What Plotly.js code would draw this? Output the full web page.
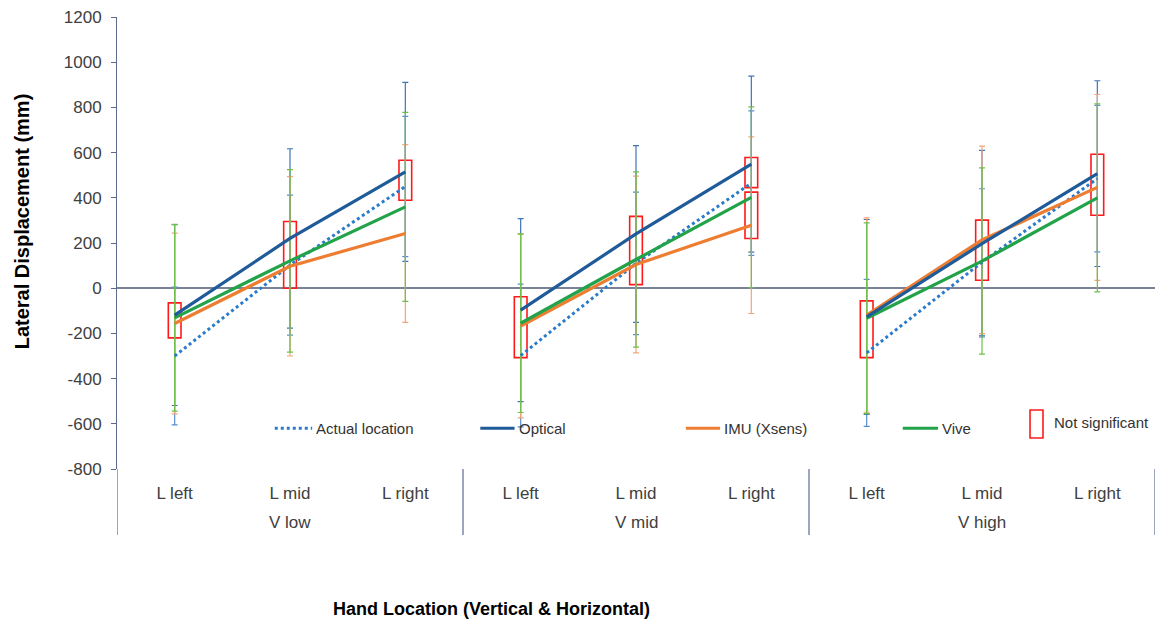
<!DOCTYPE html>
<html><head><meta charset="utf-8">
<script src="https://cdn.plot.ly/plotly-3.0.1.min.js"></script>
<style>html,body{margin:0;padding:0;background:#fff}#chart{width:1159px;height:623px}</style>
</head><body><div id="chart"></div>
<script>
const vGroups = ["V low", "V mid", "V high"];
const lPositions = ["L left", "L mid", "L right", "L left", "L mid", "L right", "L left", "L mid", "L right"];
const yTickVals = [-800, -600, -400, -200, 0, 200, 400, 600, 800, 1000, 1200];

const actual = [-300, 102, 450, -298, 110, 465, -286, 115, 485];
const actualErr = [305, 310, 310, 316, 315, 320, 325, 325, 324];
const optical = [-119, 220, 515, -97, 240, 549, -127, 197, 507];
const opticalErr = [400, 397, 396, 405, 391, 389, 431, 413, 411];
const imu = [-156, 97, 242, -168, 105, 279, -119, 214, 446];
const imuErr = [400, 397, 393, 406, 391, 391, 430, 415, 411];
const vive = [-131, 121, 360, -155, 127, 402, -133, 120, 400];
const viveErr = [413, 404, 418, 395, 388, 400, 422, 412, 416];

// "Not significant" boxes: category index, low, high
const nsIndex = [0, 1, 2, 3, 4, 5, 5, 6, 7, 8];
const nsLow = [-220, 0, 389, -307, 16, 445, 220, -307, 35, 323];
const nsHigh = [-65, 295, 566, -38, 318, 578, 425, -56, 301, 593];

const seriesNames = ["Actual location", "Optical", "IMU (Xsens)", "Vive"];
const seriesVals = [actual, optical, imu, vive];
const seriesErrs = [actualErr, opticalErr, imuErr, viveErr];
const lineColors = ["#2b7bcb", "#1f5b99", "#ed7d31", "#22a34a"];
const errColors = ["#5b8fd2", "#3f74b5", "#f4a57a", "#6cc04a"];
const lineDash = ["dot", "solid", "solid", "solid"];

const xIdx = lPositions.map((_, i) => i);
const FONT = "Liberation Sans, Arial, sans-serif";

const traces = [];
seriesVals.forEach((vals, s) => {
  traces.push({
    type: "scatter", mode: "markers", x: xIdx, y: vals,
    marker: {size: 1, opacity: 0}, showlegend: false, hoverinfo: "skip",
    error_y: {type: "data", array: seriesErrs[s], visible: true, color: errColors[s], thickness: 1.2, width: 3}
  });
});
const drawOrder = [0, 2, 3, 1];
drawOrder.forEach(s => {
  for (let g = 0; g < vGroups.length; g++) {
    const idx = [3 * g, 3 * g + 1, 3 * g + 2];
    traces.push({
      type: "scatter", mode: "lines", name: seriesNames[s],
      x: idx.map(i => xIdx[i]), y: idx.map(i => seriesVals[s][i]),
      line: {color: lineColors[s], width: s === 0 ? 3 : 3.2, dash: lineDash[s]},
      showlegend: false
    });
  }
});
traces.push({
  type: "bar", name: "Not significant",
  x: nsIndex.map(i => xIdx[i]),
  y: nsHigh.map((h, k) => h - nsLow[k]), base: nsLow, width: 0.11,
  marker: {color: "rgba(0,0,0,0)", line: {color: "#ff1a1a", width: 1.6}},
  showlegend: false, hoverinfo: "skip"
});

const shapes = [];
const annotations = [];
// group dividers and group labels
for (let g = 0; g <= vGroups.length; g++) {
  shapes.push({type: "line", xref: "x", yref: "paper", x0: 3 * g - 0.5, x1: 3 * g - 0.5, y0: 0, y1: -0.146,
    line: {color: "#3d4a7d", width: 1}});
}
vGroups.forEach((v, g) => {
  annotations.push({xref: "x", yref: "paper", x: 3 * g + 1, y: -0.1173, xanchor: "center", yanchor: "middle",
    text: v, showarrow: false, font: {family: FONT, size: 17, color: "#404040"}});
});
// manual legend
const legY = 0.09;
const legItems = [
  {x0: 0.152, x1: 0.188, tx: 0.190, s: 0},
  {x0: 0.350, x1: 0.383, tx: 0.385, s: 1},
  {x0: 0.548, x1: 0.581, tx: 0.583, s: 2},
  {x0: 0.757, x1: 0.791, tx: 0.793, s: 3}
];
legItems.forEach(it => {
  shapes.push({type: "line", xref: "paper", yref: "paper", x0: it.x0, x1: it.x1, y0: legY, y1: legY,
    line: {color: lineColors[it.s], width: 3, dash: lineDash[it.s]}});
  annotations.push({xref: "paper", yref: "paper", x: it.tx, y: legY, xanchor: "left", yanchor: "middle",
    text: seriesNames[it.s], showarrow: false, font: {family: FONT, size: 15, color: "#333"}});
});
shapes.push({type: "rect", xref: "paper", yref: "paper", x0: 0.8796, x1: 0.8921, y0: 0.0686, y1: 0.1305,
  line: {color: "#ff1a1a", width: 1.6}});
annotations.push({xref: "paper", yref: "paper", x: 0.9005, y: 0.103, xanchor: "left", yanchor: "middle",
  text: "Not significant", showarrow: false, font: {family: FONT, size: 15, color: "#333"}});
// axis titles
annotations.push({xref: "paper", yref: "paper", x: 0.2063, y: -0.31, xanchor: "left", yanchor: "middle",
  text: "<b>Hand Location (Vertical &amp; Horizontal)</b>", showarrow: false,
  font: {family: FONT, size: 18, color: "#000"}});
annotations.push({xref: "paper", yref: "paper", x: -0.0915, y: 0.548, xanchor: "center", yanchor: "middle", textangle: -90,
  text: "<b>Lateral Displacement (mm)</b>", showarrow: false,
  font: {family: FONT, size: 20, color: "#000"}});

const layout = {
  width: 1159, height: 623,
  margin: {l: 117, r: 4, t: 17, b: 154},
  paper_bgcolor: "#fff", plot_bgcolor: "#fff",
  barmode: "overlay",
  showlegend: false,
  font: {family: FONT, size: 17, color: "#404040"},
  xaxis: {
    range: [-0.5, 8.5], tickvals: xIdx, ticktext: lPositions,
    showgrid: false, zeroline: false, showline: false, ticks: "",
    tickfont: {size: 17, color: "#404040"}, ticklabelstandoff: 12
  },
  yaxis: {
    range: [-800, 1200], tickvals: yTickVals, ticktext: yTickVals.map(v => String(v)),
    showgrid: false,
    zeroline: true, zerolinecolor: "#7c8296", zerolinewidth: 1.5,
    showline: true, linecolor: "#5d6a8c", linewidth: 1,
    ticks: "outside", ticklen: 5, tickcolor: "#5d6a8c",
    tickfont: {size: 17, color: "#404040"}, ticklabelstandoff: 6
  },
  shapes: shapes,
  annotations: annotations
};
Plotly.newPlot("chart", traces, layout, {staticPlot: true});
</script></body></html>
